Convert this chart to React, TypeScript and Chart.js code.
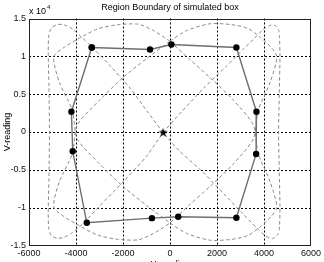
import React, { useEffect, useRef } from 'react';
import { Chart, registerables } from 'chart.js';

Chart.register(...registerables);

// ---- data ----
const TITLE = 'Region Boundary of simulated box';
const X_TITLE = 'H-reading';
const Y_TITLE = 'V-reading';

const xTickValues = [-6000, -4000, -2000, 0, 2000, 4000, 6000];
const xTickLabels = ['-6000', '-4000', '-2000', '0', '2000', '4000', '6000'];
const yTickValues = [-15000, -10000, -5000, 0, 5000, 10000, 15000];
const yTickLabels = ['-1.5', '-1', '-0.5', '0', '0.5', '1', '1.5'];

// boundary markers (H, V)
const boundaryX = [-3330, -850, 60, 2825, 3680, 3665, 2825, 350, -770, -3540, -4140, -4195];
const boundaryY = [11165, 10900, 11560, 11165, 2680, -2900, -11340, -11210, -11385, -12000, -2550, 2680];

// centre star
const centerX = [-290];
const centerY = [-90];

// dashed trace 1 (bow-tie: diagonals + side edges)
const bowX = [-290, -950, -1700, -2560, -3250, -3750, -4150, -4500, -4800, -5050, -5160, -5180, -5150, -5130, -5150, -5180, -5160, -5050, -4800, -4500, -4150, -3700, -3000, -2000, -1000, -290, 500, 1500, 2400, 3100, 3600, 3950, 4250, 4500, 4630, 4660, 4680, 4650, 4620, 4650, 4680, 4660, 4600, 4350, 4050, 3700, 3100, 2300, 1300, 400, -290];
const bowY = [-90, 2640, 5800, 8790, 11000, 12500, 13600, 14150, 14200, 13700, 12700, 10000, 6000, 0, -6000, -10000, -12700, -13700, -14050, -13900, -13300, -12100, -9800, -6600, -3200, -90, 2700, 6000, 8700, 10900, 12400, 13500, 14100, 14050, 13400, 12500, 10000, 5000, 0, -5000, -10000, -12500, -13500, -14100, -13700, -12700, -10800, -8200, -5000, -2500, -90];

// dashed trace 2 (loop along upper-left / lower-right)
const lensAX = [0, -700, -1350, -2300, -3100, -3850, -4500, -4950, -4700, -4150, -3950, -3000, -2000, -1000, 0, 700, 1700, 2600, 3300, 3850, 4300, 4550, 4250, 3750, 3550, 2700, 1700, 800, 0];
const lensAY = [12000, 13400, 14250, 14150, 13600, 12400, 11200, 9900, 6500, 2840, -900, -4200, -7200, -9700, -12000, -13400, -14300, -14200, -13700, -12500, -11200, -9900, -6500, -2840, 900, 4200, 7200, 9700, 12000];

// dashed trace 3 (loop along upper-right / lower-left)
const lensBX = [0, 700, 1700, 2600, 3300, 3850, 4300, 4550, 4250, 3750, 3550, 2700, 1700, 800, 0, -700, -1350, -2300, -3100, -3850, -4500, -4950, -4700, -4150, -3950, -3000, -2000, -1000, 0];
const lensBY = [12000, 13400, 14300, 14200, 13700, 12500, 11200, 9900, 6500, 2840, -900, -4200, -7200, -9700, -12000, -13400, -14250, -14150, -13600, -12400, -11200, -9900, -6500, -2840, 900, 4200, 7200, 9700, 12000];

const toPts = (xs: number[], ys: number[]) => xs.map((x, i) => ({ x, y: ys[i] }));

const FONT = '"Liberation Sans", Arial, Helvetica, sans-serif';

function makeStar(): HTMLCanvasElement {
  const c = document.createElement('canvas');
  c.width = 10;
  c.height = 10;
  const g = c.getContext('2d')!;
  g.fillStyle = '#000';
  g.beginPath();
  for (let i = 0; i < 10; i++) {
    const r = i % 2 === 0 ? 4.8 : 2.0;
    const a = -Math.PI / 2 + (i * Math.PI) / 5;
    const px = 5 + r * Math.cos(a);
    const py = 5 + r * Math.sin(a);
    if (i === 0) g.moveTo(px, py);
    else g.lineTo(px, py);
  }
  g.closePath();
  g.fill();
  return c;
}

const gridPlugin = {
  id: 'matlabGrid',
  beforeDatasetsDraw(chart: any) {
    const { ctx, chartArea: a, scales } = chart;
    ctx.save();
    ctx.strokeStyle = '#000';
    ctx.lineWidth = 1;
    ctx.setLineDash([2, 2]);
    xTickValues.forEach((v) => {
      const px = Math.round(scales.x.getPixelForValue(v)) + 0.5;
      if (px <= a.left + 1 || px >= a.right - 1) return;
      ctx.beginPath();
      ctx.moveTo(px, a.top);
      ctx.lineTo(px, a.bottom);
      ctx.stroke();
    });
    yTickValues.forEach((v) => {
      const py = Math.round(scales.y.getPixelForValue(v)) + 0.5;
      if (py <= a.top + 1 || py >= a.bottom - 1) return;
      ctx.beginPath();
      ctx.moveTo(a.left, py);
      ctx.lineTo(a.right, py);
      ctx.stroke();
    });
    ctx.restore();
  },
  afterDraw(chart: any) {
    const { ctx, chartArea: a } = chart;
    ctx.save();
    ctx.setLineDash([]);
    ctx.strokeStyle = '#222';
    ctx.lineWidth = 1;
    ctx.strokeRect(Math.round(a.left) + 0.5, Math.round(a.top) + 0.5, Math.round(a.right - a.left) - 1, Math.round(a.bottom - a.top) - 1);

    ctx.fillStyle = '#000';
    ctx.font = `9px ${FONT}`;
    ctx.textAlign = 'center';
    ctx.textBaseline = 'middle';
    ctx.fillText(TITLE, (a.left + a.right) / 2, 8);

    ctx.fillText(X_TITLE, (a.left + a.right) / 2, 265);

    ctx.textAlign = 'left';
    ctx.fillText('x 10', a.left, 12);
    const w = ctx.measureText('x 10').width;
    ctx.font = `6px ${FONT}`;
    ctx.fillText('4', a.left + w + 1, 7);

    ctx.font = `9px ${FONT}`;
    ctx.textAlign = 'center';
    ctx.translate(8, (a.top + a.bottom) / 2);
    ctx.rotate(-Math.PI / 2);
    ctx.fillText(Y_TITLE, 0, 0);
    ctx.restore();
  },
};

export default function App() {
  const ref = useRef<HTMLCanvasElement | null>(null);

  useEffect(() => {
    if (!ref.current) return;
    const boundary = toPts(boundaryX, boundaryY);
    boundary.push({ ...boundary[0] });
    const dashed = {
      showLine: true,
      borderColor: '#8a8a8a',
      borderWidth: 1,
      borderDash: [3.5, 2.5],
      pointRadius: 0,
      tension: 0.25,
      fill: false,
    };
    const chart = new Chart(ref.current, {
      type: 'scatter',
      data: {
        datasets: [
          {
            data: toPts(centerX, centerY),
            pointStyle: makeStar(),
            pointRadius: 5,
            order: 0,
          } as any,
          {
            data: boundary,
            showLine: true,
            borderColor: '#6e6e6e',
            borderWidth: 1.4,
            pointRadius: 3.2,
            pointBackgroundColor: '#000',
            pointBorderColor: '#000',
            pointBorderWidth: 0,
            tension: 0,
            order: 1,
          },
          { data: toPts(bowX, bowY), ...dashed, order: 2 },
          { data: toPts(lensAX, lensAY), ...dashed, order: 3 },
          { data: toPts(lensBX, lensBY), ...dashed, order: 4 },
        ],
      },
      options: {
        animation: false,
        responsive: false,
        devicePixelRatio: 1,
        layout: { padding: { left: 0, right: 8, top: 18.5, bottom: 0 } },
        plugins: { legend: { display: false }, tooltip: { enabled: false }, title: { display: false } },
        scales: {
          x: {
            type: 'linear',
            min: -6000,
            max: 6000,
            afterBuildTicks: (s: any) => {
              s.ticks = xTickValues.map((v) => ({ value: v }));
            },
            afterFit: (s: any) => {
              s.height = 26.5;
            },
            ticks: {
              autoSkip: false,
              maxRotation: 0,
              padding: 3,
              color: '#111',
              font: { family: FONT, size: 9 },
              callback: (_v: any, i: number) => xTickLabels[i],
            },
            grid: { display: false, drawTicks: false },
            border: { display: false },
          },
          y: {
            type: 'linear',
            min: -15000,
            max: 15000,
            afterBuildTicks: (s: any) => {
              s.ticks = yTickValues.map((v) => ({ value: v }));
            },
            afterFit: (s: any) => {
              s.width = 29;
            },
            ticks: {
              autoSkip: false,
              padding: 3,
              color: '#111',
              font: { family: FONT, size: 9 },
              callback: (_v: any, i: number) => yTickLabels[i],
            },
            grid: { display: false, drawTicks: false },
            border: { display: false },
          },
        },
      },
      plugins: [gridPlugin],
    });
    return () => chart.destroy();
  }, []);

  return (
    <div style={{ position: 'fixed', left: 0, top: 0, width: 324, height: 272, background: '#fff' }}>
      <canvas ref={ref} width={324} height={272} style={{ display: 'block', width: 324, height: 272 }} />
    </div>
  );
}
